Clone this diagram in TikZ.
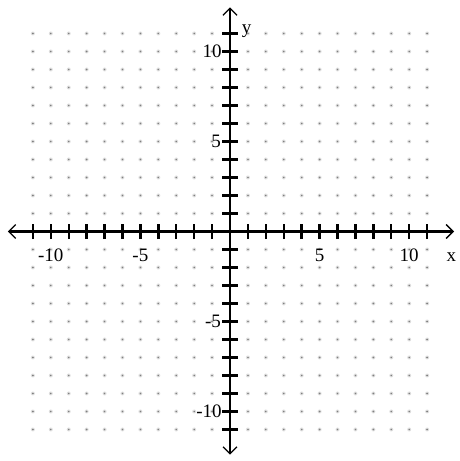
\documentclass[tikz,border=0pt]{standalone}
\usepackage{fontspec}
\setmainfont{Liberation Serif}
\usetikzlibrary{arrows.meta}
\begin{document}
\begin{tikzpicture}[x=1pt,y=1pt,
  axisline/.style={line width=2.2pt,{Straight Barb[length=7pt,width=14pt,line width=1.3pt]}-{Straight Barb[length=7pt,width=14pt,line width=1.3pt]}},
  tickmark/.style={line width=2.4pt},
  gdot/.style={fill=black!50},
  numlbl/.style={font=\fontsize{19}{21}\selectfont,inner sep=0pt},
  ]
\useasboundingbox (0,0) rectangle (459,461);
\fill[white] (0,0) rectangle (459,461);
\begin{scope}[shift={(230,229.5)},x=17.92pt,y=18pt]
  % grid dots
  \foreach \i in {-11,...,11}{
    \foreach \j in {-11,...,11}{
      \fill[black!12] (\i,\j) circle[radius=2pt];
      \fill[gdot] (\i,\j) circle[radius=0.9pt];
    }
  }
  % axes
  \coordinate (xl) at (-12.4,0);
  \coordinate (xr) at (12.5,0);
  \coordinate (yb) at (0,-12.4);
  \coordinate (yt) at (0,12.45);
  \draw[axisline] (xl) -- (xr);
  \draw[axisline] (yb) -- (yt);
  % ticks
  \foreach \i in {-11,...,-1,1,2,...,11}{
    \draw[tickmark] (\i,-0.42) -- (\i,0.42);
    \draw[tickmark] (-0.42,\i) -- (0.42,\i);
  }
  % labels
  \node[numlbl,anchor=base] (lxm10) at (-10,-1.64) {-10};
  \node[numlbl,anchor=base] (lxm5) at (-5,-1.64) {-5};
  \node[numlbl,anchor=base] (lx5) at (5,-1.64) {5};
  \node[numlbl,anchor=base] (lx10) at (10,-1.64) {10};
  \node[numlbl,anchor=base] (lxx) at (12.35,-1.64) {x};
  \node[numlbl,anchor=east] (ly10) at (-0.45,10) {10};
  \node[numlbl,anchor=east] (ly5) at (-0.5,5) {5};
  \node[numlbl,anchor=east] (lym5) at (-0.5,-5) {-5};
  \node[numlbl,anchor=east] (lym10) at (-0.45,-10) {-10};
  \node[numlbl] (lyy) at (0.93,11.15) {y};
\end{scope}
\end{tikzpicture}
\end{document}
